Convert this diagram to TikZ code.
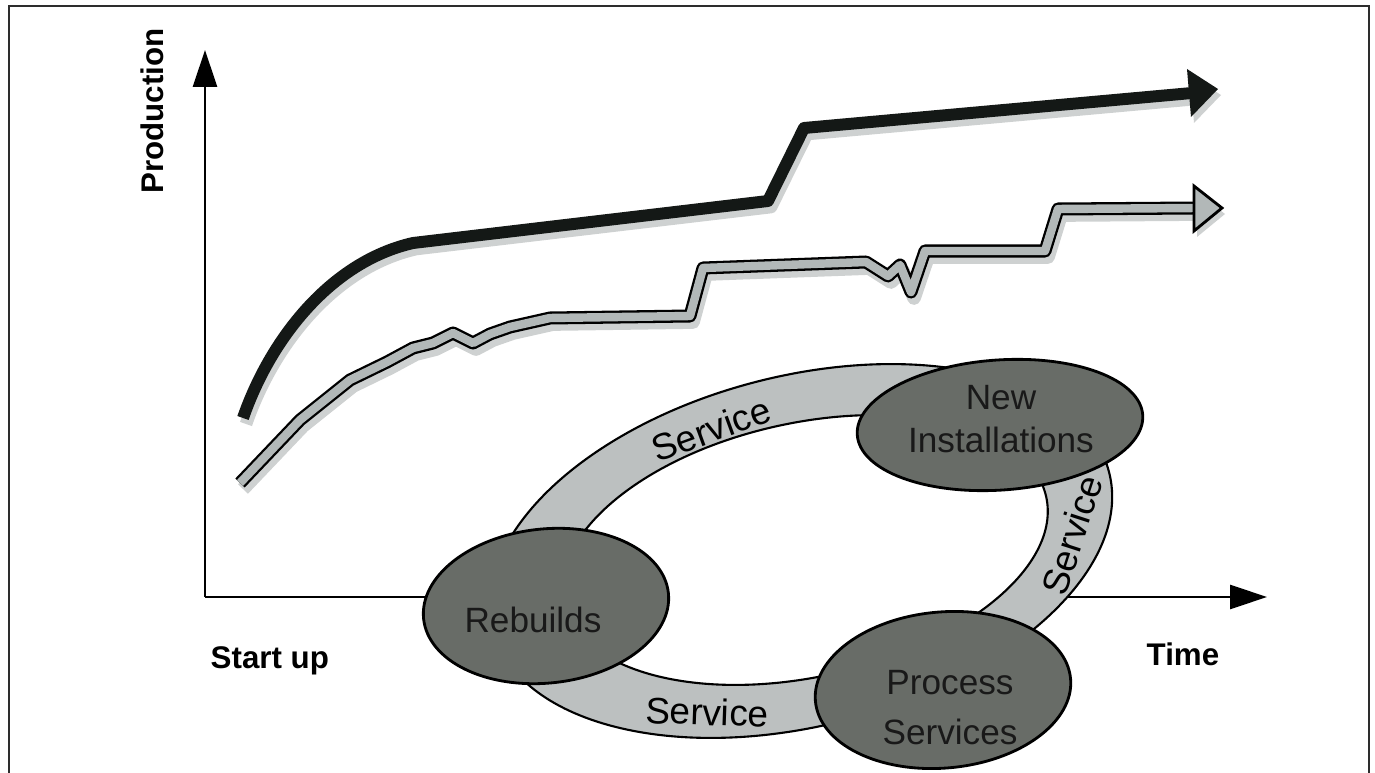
\documentclass[tikz,border=0pt]{standalone}
\usepackage{fontspec}
\setmainfont{Liberation Sans}
\usetikzlibrary{arrows.meta,shapes.geometric}

\definecolor{hubfill}{RGB}{104,108,103}
\definecolor{ringfill}{RGB}{188,192,192}
\definecolor{runfill}{RGB}{178,184,184}
\definecolor{shadowgray}{RGB}{206,209,209}
\definecolor{runblack}{RGB}{20,24,22}
\definecolor{framegray}{RGB}{45,45,45}

% upper production run (black) and lower run (outlined grey)
\newcommand\upperrun{(243,418) .. controls (270,340) and (330,262) .. (413,243) -- (768,201) -- (804,128) -- (1192,93)}
\newcommand\lowerrun{(240,483) -- (300,420) -- (350,380) -- (387,362) -- (413,348) -- (433,343) -- (453,333) -- (473,343) -- (490,334) -- (510,327) -- (550,318) -- (690,316) -- (703,268) -- (866,262) -- (888,276) -- (900,265) -- (911,292) -- (925,251) -- (1045,251) -- (1058,209) -- (1196,208)}

\begin{document}
\begin{tikzpicture}[x=0.01cm, y=-0.01cm,
  framepen/.style={draw=framegray, line width=0.6pt},
  axispen/.style={draw=black, line width=0.85pt, -{Triangle[length=10.5pt, width=6.8pt]}},
  axislabel/.style={font=\fontsize{8.9}{10}\selectfont\bfseries, inner sep=0pt},
  hub/.style={shape=ellipse, draw=black, line width=0.8pt, fill=hubfill, inner sep=0pt},
  hubtext/.style={font=\fontsize{10}{12.2}\selectfont, text=black!90, align=center, inner sep=0pt},
  ringpen/.style={draw=black, line width=0.6pt},
  ringlabel/.style={font=\fontsize{10.5}{12}\selectfont, inner sep=0pt},
  shadowpen/.style={draw=shadowgray, line join=round}
]
\useasboundingbox (0,0) rectangle (1375,773);

% open frame
\draw[framepen] (9,773) -- (9,6) -- (1369,6) -- (1369,773);

% axes
\coordinate (O) at (205,597);
\coordinate (ytip) at (205,50);
\coordinate (xtip) at (1267,597);
\draw[axispen] (O) -- (ytip);
\draw[axispen] (O) -- (xtip);

\node[axislabel, rotate=90] (prod) at (152,111) {Production};
\node[axislabel, anchor=base west] (start) at (210,668) {Start up};
\node[axislabel, anchor=base west] (time) at (1146,665) {Time};

% shadows of the two runs
\draw[shadowpen, line width=3.6pt, shift={(3,6)}] \upperrun;
\fill[shadowgray, shift={(3,6)}] (1187,69) -- (1218,89) -- (1191,117) -- cycle;
\draw[shadowpen, line width=3.9pt, shift={(3,6)}] \lowerrun;
\fill[shadowgray, shift={(3,6)}] (1194,186) -- (1222,208) -- (1194,231) -- cycle;

% upper run
\draw[runblack, line width=3.4pt, line join=round] \upperrun;
\fill[runblack] (1187,69) -- (1218,89) -- (1191,117) -- cycle;

% lower run
\draw[black, line width=3.7pt, line join=round] \lowerrun;
\draw[runfill, line width=2.4pt, line join=round] \lowerrun;
\filldraw[fill=runfill, draw=black, line width=0.8pt, line join=miter] (1194,186) -- (1222,208) -- (1194,231) -- cycle;

% service ring
\draw[ringpen, fill=ringfill, rotate around={14.3:(801,551)}] (801,551) ellipse [x radius=318, y radius=175];
\draw[ringpen, fill=white, rotate around={12.4:(805,550)}] (805,550) ellipse [x radius=247, y radius=127];

\node[ringlabel, rotate=20] (svtop) at (711,429) {Service};
\node[ringlabel, rotate=-2] (svbot) at (707,712) {Service};
\node[ringlabel, rotate=72] (svright) at (1072,535) {Service};

% business areas
\node[hub, rotate=6, minimum width=2.46cm, minimum height=1.54cm] (reb) at (546,606) {};
\node[hubtext] (rebtext) at (533,620) {Rebuilds};

\node[hub, rotate=4, minimum width=2.86cm, minimum height=1.30cm] (newi) at (1000,425) {};
\node[hubtext] (newitext) at (1001,419) {New\\Installations};

\node[hub, rotate=5, minimum width=2.56cm, minimum height=1.56cm] (proc) at (943,690) {};
\node[hubtext, font=\fontsize{10}{14.2}\selectfont] (proctext) at (950,708) {Process\\Services};
\end{tikzpicture}
\end{document}
